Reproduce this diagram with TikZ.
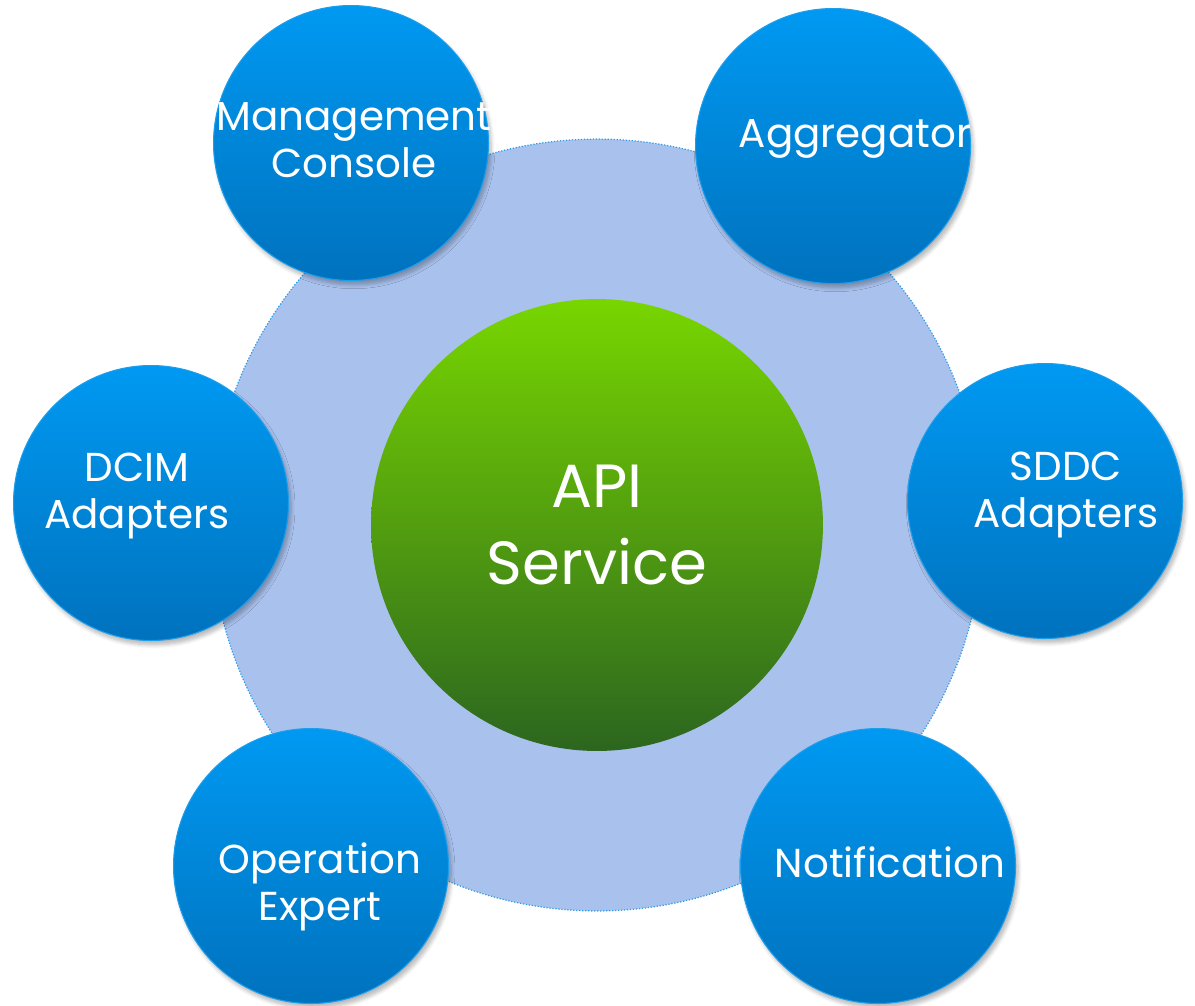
\documentclass[tikz,border=0pt]{standalone}
\usepackage{fontspec}
\setmainfont{Poppins}
\usetikzlibrary{shadows.blur}

\definecolor{ringblue}{HTML}{A9C1ED}
\definecolor{ringline}{HTML}{2E9BE6}
\definecolor{bubbletop}{HTML}{0099F2}
\definecolor{bubblebottom}{HTML}{0072BE}
\definecolor{bubbleline}{HTML}{1E9DEB}
\definecolor{apitop}{HTML}{78D600}
\definecolor{apibottom}{HTML}{2C661F}

\tikzset{
  bubble/.style = {circle, inner sep = 0pt, minimum size = 5.5cm,
    top color = bubbletop, bottom color = bubblebottom,
    draw = bubbleline, line width = 0.6pt,
    blur shadow = {shadow xshift = 1.5pt, shadow yshift = -2.5pt,
      shadow opacity = 28, shadow blur steps = 6}},
  bubbletext/.style = {text = white, align = center, inner sep = 0pt,
    font = \fontsize{23}{27}\selectfont},
}

\begin{document}
\begin{tikzpicture}[x = 0.02cm, y = -0.02cm]
  \useasboundingbox (0,0) rectangle (1195,1005);

  \node[circle, inner sep = 0pt, minimum size = 15.44cm, fill = ringblue,
    draw = ringline, densely dotted, line width = 0.7pt] (ring) at (597,525) {};
  \node[circle, inner sep = 0pt, minimum size = 9.04cm,
    top color = apitop, bottom color = apibottom] (api) at (597,525) {};
  \node[bubbletext, font = \fontsize{34.7}{43.8}\selectfont] (api text) at (597,525) {API\\Service};

  \node[bubble] (mgmt) at (351,143) {};
  \node[bubble] (aggr) at (833,146) {};
  \node[bubble] (dcim) at (151,503) {};
  \node[bubble] (sddc) at (1045,501) {};
  \node[bubble] (opex) at (311,866) {};
  \node[bubble] (notif) at (878,866) {};

  \node[bubbletext] (mgmt text) at (354,140) {Management\\Console};
  \node[bubbletext] (aggr text) at (855,139) {Aggregator};
  \node[bubbletext] (dcim text) at (137,496) {DCIM\\Adapters};
  \node[bubbletext] (sddc text) at (1066,495) {SDDC\\Adapters};
  \node[bubbletext] (opex text) at (320,887) {Operation\\Expert};
  \node[bubbletext] (notif text) at (890,862) {Notification};
\end{tikzpicture}
\end{document}
